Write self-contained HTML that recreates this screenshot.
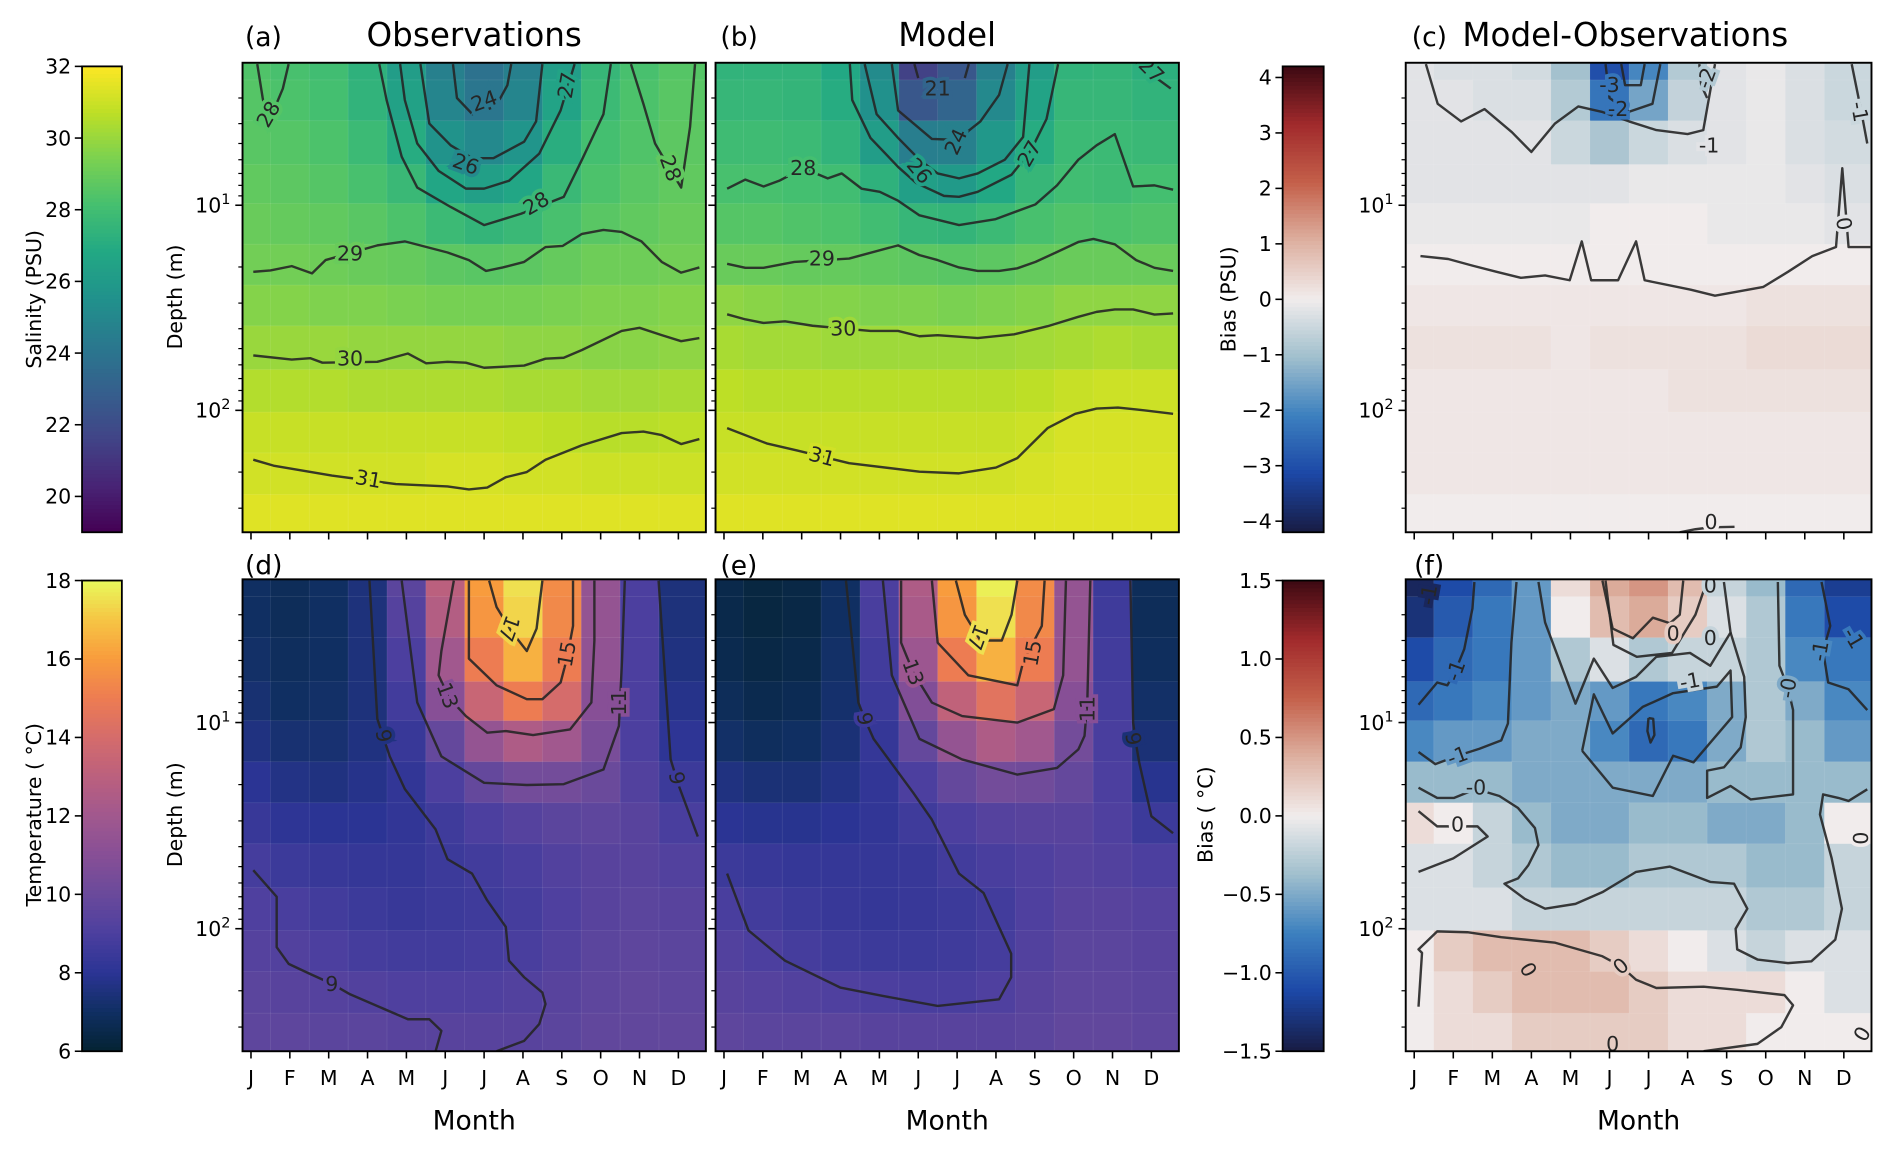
<!DOCTYPE html>
<html><head><meta charset="utf-8"><title>Salinity and temperature climatology</title>
<style>
html,body{margin:0;padding:0;background:#fff;}
svg{display:block;font-family:"DejaVu Sans","Liberation Sans",sans-serif;}
</style></head>
<body>
<svg id="fig" xmlns="http://www.w3.org/2000/svg" width="1892" height="1149" viewBox="0 0 1568 952" preserveAspectRatio="none"></svg>
<script>
// ---------- data ----------
const months = ["J","F","M","A","M","J","J","A","S","O","N","D"];
const depths = [2,3,5,8,12,20,30,50,80,130,200,330];
const salTicks = [20,22,24,26,28,30,32];
const tempTicks = [6,8,10,12,14,16,18];
const salBiasTicks = [-4,-3,-2,-1,0,1,2,3,4];
const tempBiasTicks = [-1.5,-1.0,-0.5,0.0,0.5,1.0,1.5];

const salObs = [
[28.4,28.2,28.0,27.3,26.2,24.6,23.9,24.6,26.2,27.6,28.2,28.5],
[28.5,28.3,28.1,27.4,26.4,24.9,24.1,24.9,26.5,27.8,28.3,28.6],
[28.6,28.5,28.3,27.8,27.0,25.6,25.1,25.7,27.1,28.1,28.4,28.7],
[28.8,28.7,28.5,28.2,27.7,26.7,26.3,26.7,27.7,28.3,28.6,28.8],
[29.0,28.9,28.8,28.6,28.3,27.8,27.5,27.7,28.2,28.6,28.8,29.0],
[29.2,29.2,29.1,29.0,28.9,28.7,28.6,28.7,28.9,29.1,29.1,29.2],
[29.6,29.6,29.5,29.5,29.4,29.3,29.3,29.3,29.4,29.5,29.5,29.6],
[30.0,30.0,30.0,29.9,29.9,29.9,29.9,29.8,29.8,29.7,29.7,29.8],
[30.5,30.5,30.5,30.4,30.4,30.4,30.4,30.3,30.3,30.2,30.2,30.3],
[30.9,30.9,30.9,30.9,30.9,30.9,30.9,30.8,30.7,30.6,30.6,30.7],
[31.1,31.1,31.1,31.1,31.1,31.2,31.2,31.1,31.1,31.0,31.0,31.0],
[31.4,31.4,31.4,31.4,31.4,31.4,31.4,31.4,31.4,31.4,31.4,31.4]];
const salModel = [
[27.4,27.4,27.4,26.8,25.2,21.5,22.5,24.6,26.2,27.4,27.5,27.2],
[27.6,27.6,27.5,27.0,25.5,22.5,23.2,25.1,26.5,27.6,27.6,27.4],
[27.9,27.9,27.8,27.4,26.2,24.5,24.6,25.9,27.0,27.8,27.8,27.7],
[28.2,28.2,28.1,28.0,27.3,26.3,26.0,26.8,27.6,28.0,27.9,28.1],
[28.5,28.5,28.4,28.3,28.0,27.6,27.5,27.8,28.2,28.4,28.3,28.4],
[29.0,29.0,28.9,28.9,28.8,28.7,28.6,28.7,28.9,29.0,29.0,29.0],
[29.8,29.7,29.6,29.6,29.5,29.5,29.4,29.5,29.6,29.8,29.8,29.8],
[30.3,30.2,30.2,30.1,30.1,30.1,30.1,30.1,30.2,30.3,30.4,30.3],
[30.7,30.6,30.6,30.6,30.6,30.6,30.6,30.6,30.7,30.9,31.0,31.0],
[30.9,30.9,30.9,30.9,30.9,30.9,30.9,30.9,31.0,31.2,31.2,31.2],
[31.1,31.1,31.1,31.1,31.1,31.1,31.1,31.1,31.2,31.3,31.3,31.3],
[31.4,31.4,31.4,31.4,31.4,31.4,31.4,31.4,31.4,31.4,31.4,31.4]];
const salBias = [
[-0.2,-0.3,-0.3,-0.4,-1.0,-3.0,-2.0,-0.8,-0.2,-0.1,-0.3,-0.5],
[-0.2,-0.2,-0.3,-0.3,-0.8,-2.3,-1.5,-0.6,-0.2,-0.1,-0.3,-0.5],
[-0.2,-0.2,-0.2,-0.2,-0.5,-0.9,-0.5,-0.3,-0.2,-0.1,-0.3,-0.4],
[-0.2,-0.2,-0.2,-0.2,-0.2,-0.2,-0.1,-0.1,-0.1,-0.1,-0.2,-0.3],
[-0.1,-0.1,-0.1,-0.1,-0.1,0.0,0.0,0.0,-0.1,-0.1,-0.1,-0.2],
[0.0,0.0,0.0,0.0,0.0,0.0,0.0,0.0,0.0,0.0,0.0,0.0],
[0.1,0.1,0.1,0.1,0.1,0.1,0.1,0.1,0.1,0.2,0.2,0.2],
[0.2,0.2,0.2,0.2,0.1,0.2,0.2,0.2,0.2,0.3,0.3,0.3],
[0.1,0.1,0.1,0.1,0.1,0.1,0.1,0.2,0.2,0.2,0.2,0.2],
[0.1,0.1,0.1,0.1,0.1,0.1,0.1,0.1,0.1,0.1,0.1,0.1],
[0.1,0.1,0.1,0.1,0.1,0.1,0.1,0.1,0.1,0.1,0.1,0.1],
[0.0,0.0,0.0,0.0,0.0,0.0,0.0,0.0,0.0,0.0,0.0,0.0]];
const tempObs = [
[7.0,6.8,7.0,7.5,9.5,13.0,16.0,17.5,15.5,11.5,9.0,7.5],
[7.0,6.8,7.0,7.5,9.3,12.7,15.8,17.3,15.4,11.5,9.0,7.5],
[7.1,6.9,7.0,7.5,9.0,12.0,15.0,16.5,15.0,11.4,9.0,7.6],
[7.3,7.0,7.1,7.5,8.7,11.0,13.5,15.0,14.0,11.0,9.0,7.8],
[7.6,7.3,7.3,7.6,8.4,9.8,11.5,12.5,12.0,10.5,9.0,8.1],
[8.0,7.7,7.6,7.8,8.2,9.0,9.8,10.3,10.3,10.0,9.2,8.5],
[8.4,8.1,8.0,8.0,8.2,8.6,9.0,9.3,9.5,9.6,9.4,8.9],
[8.8,8.5,8.4,8.3,8.3,8.5,8.7,8.9,9.2,9.4,9.4,9.2],
[9.1,8.9,8.7,8.5,8.4,8.5,8.6,8.8,9.1,9.4,9.5,9.4],
[9.3,9.2,9.0,8.8,8.7,8.7,8.8,8.9,9.2,9.5,9.6,9.5],
[9.5,9.4,9.3,9.2,9.1,9.1,9.1,9.2,9.4,9.6,9.7,9.6],
[9.6,9.6,9.5,9.5,9.4,9.4,9.4,9.4,9.5,9.7,9.7,9.7]];
const tempModel = [
[6.5,6.3,6.4,7.0,9.0,12.5,16.0,17.8,15.5,11.5,8.5,6.8],
[6.5,6.3,6.4,7.0,8.9,12.3,15.8,17.5,15.4,11.5,8.6,6.8],
[6.6,6.4,6.5,7.1,8.7,11.8,15.0,16.5,15.0,11.5,8.7,6.9],
[6.8,6.6,6.7,7.2,8.5,10.8,13.2,14.5,13.5,11.0,8.8,7.1],
[7.1,6.9,7.0,7.4,8.3,9.8,11.5,12.5,12.0,10.3,8.9,7.4],
[7.6,7.4,7.4,7.7,8.2,9.0,9.8,10.3,10.2,9.8,9.0,7.9],
[8.0,7.9,7.9,8.0,8.2,8.6,9.0,9.3,9.4,9.4,9.1,8.5],
[8.5,8.4,8.3,8.3,8.3,8.4,8.7,8.9,9.1,9.3,9.2,9.0],
[8.9,8.7,8.5,8.4,8.3,8.4,8.5,8.7,9.1,9.4,9.4,9.3],
[9.2,9.0,8.8,8.6,8.5,8.5,8.6,8.8,9.2,9.5,9.5,9.4],
[9.4,9.3,9.2,9.1,9.0,8.9,8.9,9.1,9.4,9.6,9.6,9.5],
[9.6,9.5,9.5,9.5,9.4,9.4,9.4,9.4,9.5,9.7,9.7,9.6]];
const tempBias = [
[-1.4,-1.1,-0.9,-0.6,0.1,0.4,0.5,0.3,-0.2,-0.4,-0.9,-1.2],
[-1.3,-1.0,-0.8,-0.6,0.0,0.3,0.4,0.2,-0.1,-0.3,-0.8,-1.1],
[-1.1,-0.9,-0.8,-0.6,-0.3,-0.1,-0.3,-0.2,-0.2,-0.3,-0.7,-0.8],
[-0.9,-0.8,-0.7,-0.6,-0.5,-0.6,-0.8,-0.7,-0.5,-0.3,-0.5,-0.7],
[-0.7,-0.6,-0.6,-0.5,-0.5,-0.7,-0.9,-0.8,-0.5,-0.3,-0.4,-0.6],
[-0.4,-0.4,-0.4,-0.5,-0.5,-0.5,-0.5,-0.5,-0.4,-0.4,-0.4,-0.4],
[0.1,0.0,-0.2,-0.4,-0.5,-0.5,-0.4,-0.4,-0.5,-0.5,-0.4,0.0],
[-0.1,-0.1,-0.2,-0.3,-0.4,-0.4,-0.3,-0.3,-0.3,-0.4,-0.4,-0.2],
[-0.1,-0.1,-0.1,-0.2,-0.2,-0.2,-0.2,-0.2,-0.2,-0.3,-0.3,-0.2],
[0.0,0.2,0.3,0.3,0.3,0.2,0.1,0.0,-0.1,-0.2,-0.1,-0.1],
[0.0,0.1,0.2,0.3,0.3,0.3,0.2,0.1,0.1,0.1,0.0,-0.1],
[0.0,0.1,0.1,0.2,0.2,0.2,0.2,0.1,0.1,0.0,0.0,0.0]];

// contour lines: [month index, depth m]
const contA = [
[[0.16,2.05],[0.3,3],[0.45,4.2],[0.6,3.4],[0.82,2.7],[0.97,2.05]],
[[3.3,2.05],[3.49,3.07],[3.88,5.8],[4.28,8.2],[5.14,10.2],[6,12.5],[6.95,11],[8.05,9.1],[8.52,6],[9.07,3.6],[9.26,2.05]],
[[9.78,2.05],[10.1,3.2],[10.4,5.0],[10.75,6.5],[11.07,8.2],[11.3,4.15],[11.43,2.05]],
[[3.84,2.05],[3.96,3.07],[4.28,5],[4.83,6.8],[5.53,8.3],[6,8.3],[6.64,7.6],[7.42,5.6],[7.97,3.45],[8.33,2.05]],
[[4.36,2.05],[4.59,4.0],[5.14,5.1],[5.7,5.9],[6.24,5.9],[7.03,4.9],[7.34,3.9],[7.5,2.05]],
[[5.2,2.05],[5.3,3.0],[5.7,3.6],[6.3,3.3],[6.6,2.6],[6.7,2.05]],
[[0.06,21.1],[0.5,20.8],[1.05,19.8],[1.57,21.5],[1.92,18.5],[3.25,15.7],[3.96,15],[5.06,17],[5.61,18.5],[6.05,20.9],[6.48,20.1],[7.03,18.9],[7.58,16],[8.02,15.8],[8.52,13.8],[9.07,13.2],[9.54,13.5],[10.05,15],[10.57,18.9],[11.07,21.3],[11.54,20.1]],
[[0.06,54],[1.05,56.5],[1.53,55.7],[1.84,58.6],[3.25,58],[4.04,52.8],[4.51,59],[5.06,58],[5.53,58.6],[6.0,62],[7.03,60.5],[7.58,56],[8.05,55.4],[8.52,50.8],[9.54,41],[10.0,39.6],[10.57,43],[11.07,46],[11.54,44.4]],
[[0.06,174],[0.58,186],[2.08,208],[3.73,229],[5.06,235],[5.61,243],[6.08,238],[6.56,212],[7.1,200],[7.58,174],[8.52,148],[9.54,129],[10.1,127],[10.57,132],[11.07,146],[11.54,138]]];
const contB = [
[[0.08,122],[1.1,145],[1.89,157],[3.22,181],[5.03,199],[6.05,203],[7.0,190],[7.55,171],[8.33,122],[9.04,104],[9.59,98],[10.14,97],[10.61,99],[11.56,104]],
[[0.08,34],[0.55,36],[1.02,37.5],[1.57,36.8],[2.28,38.7],[3.77,41],[4.48,41],[5.03,43.5],[5.5,43],[6.53,44.4],[7.47,42.6],[8.33,38.9],[9.12,35],[9.59,33.1],[10.06,32.2],[10.53,32.2],[11.08,34.1],[11.56,33.7]],
[[0.08,19.3],[0.55,20.2],[1.02,20.2],[1.81,18.9],[3.22,18.2],[4.48,15.7],[5.03,17.5],[5.5,18.5],[6.05,20.1],[6.53,20.9],[7.08,20.9],[7.55,20.3],[8.02,18.9],[8.57,16.9],[9.12,15.1],[9.51,14.6],[10.06,15.5],[10.61,18.5],[11.08,20.2],[11.56,20.9]],
[[0.08,8.3],[0.55,7.5],[1.02,8.1],[1.42,7.6],[2.04,6.6],[2.67,7.4],[3.03,7.0],[3.54,8.3],[4.01,8.6],[4.48,9.5],[5.03,11.2],[6.05,12.5],[6.99,11.7],[8.02,9.9],[8.57,8.0],[9.12,6.0],[9.59,5.1],[10.06,4.5],[10.53,8.1],[11.08,8.0],[11.56,8.4]],
[[3.24,2.05],[3.3,3.07],[3.77,4.7],[4.48,6.5],[4.95,7.8],[5.66,9.0],[6.05,9.1],[6.53,8.6],[7.4,7.1],[7.9,5.4],[8.3,3.8],[8.6,2.05]],
[[3.62,2.05],[3.93,3.6],[4.48,4.7],[5.03,6.0],[5.5,7.0],[6.05,7.4],[6.53,7.0],[7.23,6.0],[7.7,4.65],[7.86,2.05]],
[[4.32,2.05],[4.48,3.45],[5.35,4.75],[6.0,4.8],[6.6,3.9],[7.08,2.9],[7.3,2.05]],
[[4.9,2.05],[5.0,2.4]],[[6.3,2.05],[6.2,2.4]],
[[10.6,2.05],[11.0,2.3],[11.5,2.7]]];
const contC = [
[[0.16,17.7],[0.87,18.3],[1.49,19.7],[2.11,21.1],[2.73,22.6],[3.35,22],[3.98,23.2],[4.29,15],[4.53,23.2],[5.22,23.2],[5.68,15],[5.9,23.2],[7.08,25.8],[7.7,27.6],[8.94,25],[9.57,21.1],[10.19,17.7],[10.8,16],[10.96,6.6],[11.12,16],[11.68,16]],
[[0.3,2.05],[0.6,3.2],[1.2,3.9],[1.8,3.4],[2.5,4.4],[3.0,5.5],[3.6,4.0],[4.2,3.3],[4.8,3.5],[5.5,3.9],[6.2,4.3],[7.0,4.5],[7.4,4.3],[7.7,2.05]],
[[11.2,2.05],[11.45,3.5],[11.6,5]],
[[4.9,2.05],[5.0,3.0],[5.5,3.5],[6.1,3.2],[6.3,2.05]],
[[7.3,2.05],[7.35,2.6],[7.5,3.0]],
[[5.3,2.05],[5.4,2.6],[5.8,2.6],[5.9,2.05]],
[[6.8,393],[7.2,380],[7.6,372],[8.2,370]]];
const contD = [
[[6.13,2.05],[6.32,2.75],[6.7,3.6],[7.1,4.5],[7.35,3.5],[7.5,2.05]],
[[5.61,2.05],[5.61,4.9],[6.32,6.6],[7.1,7.7],[7.5,7.7],[7.97,6.4],[8.13,4.9],[8.29,3.4],[8.29,2.05]],
[[5.22,2.05],[4.9,4.5],[4.83,5.9],[5.1,7.6],[5.53,9.3],[6.08,11.2],[6.56,11.0],[7.26,11.5],[8.21,10.8],[8.76,8.0],[8.84,4],[8.84,2.05]],
[[3.88,2.05],[4.28,8.0],[4.9,14.6],[6.0,19.6],[7.1,20.1],[8.05,19.9],[9.07,16.9],[9.47,10.4],[9.55,5],[9.62,2.05]],
[[3.05,2.05],[3.25,9.6],[3.57,14.6],[3.96,21],[4.75,33],[5.06,46],[5.69,54],[6.08,73],[6.56,98],[6.64,143],[7.03,172],[7.5,204],[7.58,232],[7.42,290],[7.03,350],[6.32,393]],
[[10.49,2.05],[10.8,15.1],[11.0,20],[11.5,35.7]],
[[0.06,52],[0.66,70],[0.66,123],[0.97,148],[1.53,166],[2.08,185],[2.55,208],[4.04,275],[4.59,275],[4.9,313],[4.75,393]]];
const contE = [
[[5.97,2.05],[6.2,3.0],[6.6,4.0],[7.15,4.0],[7.4,3.0],[7.55,2.05]],
[[5.35,2.05],[5.5,4.1],[6.29,5.9],[7.55,6.6],[7.7,5.1],[8.18,3.4],[8.25,2.05]],
[[4.56,2.05],[4.56,4.1],[4.87,5.7],[5.35,8.0],[6.13,9.3],[7.55,10],[8.49,8.6],[8.73,5.9],[8.8,2.05]],
[[4.09,2.05],[4.32,5.9],[5.03,12],[6.13,15.1],[7.55,17.9],[8.57,16.6],[9.12,13.5],[9.28,11.6],[9.35,8],[9.43,2.05]],
[[3.14,2.05],[3.46,8.0],[3.62,9.6],[3.85,12],[4.87,21.9],[5.35,29.6],[6.05,54],[6.68,67],[7.39,132],[7.39,172],[7.08,220],[5.5,237],[4.09,212],[2.99,193],[1.57,143],[0.63,102],[0.24,65],[0.08,54]],
[[10.46,2.05],[10.53,10],[10.6,12.5],[10.69,15.7],[11.0,28.5],[11.56,34.4]]];
const contF = [
[[0.11,8.2],[0.59,6.4],[0.85,6.6],[1.06,5.6],[1.28,4.4],[1.49,2.8],[1.54,2.08]],
[[0.11,13.9],[0.54,15.9],[1.11,14.5],[1.67,13.4],[2.23,12.2],[2.4,10.1],[2.49,4.1],[2.62,2.08]],
[[0.11,20.7],[0.59,23.2],[1.02,23.2],[1.58,21],[2.18,22.7],[2.66,26],[3.09,32.5],[3.18,39.3],[2.92,49.2],[2.66,57],[2.31,60.5],[2.83,71.6],[3.35,80],[4.13,75.8],[4.82,66.5],[5.68,53],[6.55,50],[7.58,59.3],[8.19,60.5],[8.53,80],[8.23,100],[8.27,126],[8.79,141],[9.57,147],[10.17,144],[10.78,113],[10.95,80],[10.69,45.6],[10.39,27.9],[10.47,22.3],[10.86,23.2],[11.12,24],[11.6,21.1]],
[[3.18,2.08],[3.35,3.27],[4.13,8.1],[4.6,4.9],[5.08,6.8],[5.68,6.0],[6.2,4.8],[7.06,4.6],[7.58,5.3],[8.1,3.66],[7.93,2.08]],
[[4.82,2.05],[5.08,3.5],[5.6,3.9],[6.11,3.1],[6.55,3.3],[6.8,3.0],[6.89,2.05]],
[[4.9,2.05],[5.1,4.2],[5.7,4.8],[6.6,4.6],[7.2,3.0],[7.5,2.05]],
[[4.3,13.7],[4.6,7.3],[5.08,11.3],[5.85,8.4],[6.63,7.2],[7.75,6.7],[8.1,5.6],[8.14,9.4],[7.15,15.6],[6.63,14.5],[6.11,22.7],[5.08,20.7],[4.3,13.7]],
[[6.0,9.5],[6.12,9.6],[6.15,11.5],[6.05,12.5],[5.97,11],[6.0,9.5]],
[[9.31,2.08],[9.35,5.3],[9.57,6.8],[9.7,8.7],[9.7,22.3],[8.62,23.6],[8.1,20.3],[7.5,23.2],[7.5,17.1],[7.93,16.5],[8.36,13.2],[8.49,9.4],[8.45,6.0],[8.1,3.66]],
[[10.43,2.08],[10.65,3.4],[10.47,4.5],[10.6,6.4],[11.12,6.9],[11.6,8.7]],
[[0.11,26.9],[0.59,31.9],[1.62,31.9],[1.88,35.7],[1.0,45.6],[0.11,53]],
[[0.11,239],[0.2,131],[0.11,126],[0.59,103],[1.36,104],[2.23,110],[3.61,117],[4.82,136],[5.29,152],[5.68,177],[6.2,194],[7.41,191],[8.27,198],[9.48,210],[9.7,235],[9.4,300],[8.79,362],[7.41,393]]];

// contour labels: [text, month, depth, rotation]
const labA = [["28",0.45,3.6,-60],["24",6.0,3.1,-20],["27",8.13,2.6,-80],["26",5.53,6.3,20],["28",7.34,9.8,-30],["28",10.8,6.6,70],["29",2.55,17.2,0],["30",2.55,56,0],["31",3.02,216,10]];
const labB = [["21",5.5,2.7,0],["24",5.97,4.9,-65],["26",5.03,6.8,50],["27",7.86,5.6,-60],["28",2.04,6.6,0],["29",2.52,18.2,0],["30",3.07,40,0],["31",2.52,168,15],["27",11.0,2.2,45]];
const labC = [["-3",5.0,2.6,0],["-2",5.22,3.4,0],["-2",7.48,2.4,-70],["-1",7.55,5.1,0],["-1",11.4,3.5,80],["0",11.0,12.3,80],["0",7.6,350,0]];
const labD = [["17",6.64,3.5,110],["15",8.13,4.65,-80],["13",5.06,7.4,70],["11",9.47,8.0,-90],["9",3.41,11.6,80],["9",10.96,18.6,80],["9",2.08,185,0]];
const labE = [["17",6.53,3.85,110],["15",7.94,4.6,-80],["13",4.87,5.7,70],["11",9.36,8.6,-90],["9",3.62,9.6,80],["9",10.53,12,80]];
const labF = [["-1",0.37,2.4,-80],["-1",1.06,5.6,-70],["-1",1.11,14.5,-20],["-0",1.58,20.7,0],["0",1.11,31.3,0],["0",6.63,3.7,0],["0",7.58,3.9,0],["0",7.58,2.16,0],["-1",7.06,6.3,-10],["-0",9.57,6.8,-80],["-1",10.39,4.5,-80],["-1",11.25,3.9,60],["0",11.42,36.4,90],["0",5.29,152,-40],["0",2.92,158,60],["0",5.08,362,0],["0",11.47,324,-60]];

// ---------- colormaps ----------
const viridis=["#440154","#482475","#414487","#355f8d","#2a788e","#21918c","#22a884","#44bf70","#7ad151","#bddf26","#fde725"];
const thermal=["#042333","#102f62","#2b3494","#4c3f9f","#6a4a9b","#874f96","#a1588e","#bb607e","#d56c6b","#ed7c52","#f89c3d","#f6c544","#e8fa5b"];
const balance=["#181c43","#1c47a6","#3c80bf","#a0bfcd","#f1ecec","#ddb0a0","#c4604a","#a12a2c","#3c0912"];
function hex(c){return [parseInt(c.slice(1,3),16),parseInt(c.slice(3,5),16),parseInt(c.slice(5,7),16)];}
function cmap(stops,t){t=Math.max(0,Math.min(1,t));const n=stops.length-1;const i=Math.min(n-1,Math.floor(t*n));const f=t*n-i;const a=hex(stops[i]),b=hex(stops[i+1]);return "rgb("+a.map((v,k)=>Math.round(v+(b[k]-v)*f)).join(",")+")";}

// ---------- helpers ----------
const NS="http://www.w3.org/2000/svg";
const svg=document.getElementById("fig");
function el(tag,attrs,parent){const e=document.createElementNS(NS,tag);for(const k in attrs)e.setAttribute(k,attrs[k]);(parent||svg).appendChild(e);return e;}
const DMIN=2.02,DMAX=393;
function mkPanel(x,y,w,h){return {x:x,y:y,w:w,h:h,
 xs:m=>x+7*w/384+m*32.2*w/384,
 ys:d=>y+(Math.log10(d)-Math.log10(DMIN))/(Math.log10(DMAX)-Math.log10(DMIN))*h};}
const P={a:mkPanel(201,52,384,389),b:mkPanel(593,52,384,389),c:mkPanel(1165,52,386,389),
 d:mkPanel(201,480,384,391),e:mkPanel(593,480,384,391),f:mkPanel(1165,480,386,391)};

function drawHeat(p,grid,stops,vmin,vmax,name){
 const g=el("g",{});
 
 
 for(let r=0;r<depths.length;r++){
  const y0=r===0?p.y:p.ys(Math.sqrt(depths[r-1]*depths[r]));
  const y1=r===depths.length-1?p.y+p.h:p.ys(Math.sqrt(depths[r]*depths[r+1]));
  for(let c=0;c<12;c++){
   const x0=c===0?p.x:p.xs(c-0.5);
   const x1=c===11?p.x+p.w:p.xs(c+0.5);
   const rc=el("rect",{x:x0,y:y0,width:x1-x0+0.3,height:y1-y0+0.3,fill:cmap(stops,(grid[r][c]-vmin)/(vmax-vmin)),stroke:"rgba(255,255,255,0.10)","stroke-width":0.6},g);
   
   
  }
 }
}
function cellColor(p,grid,stops,vmin,vmax,m,d){
 let c=Math.round(m);c=Math.max(0,Math.min(11,c));
 let r=0,best=1e9;depths.forEach((dd,i)=>{const k=Math.abs(Math.log(dd/d));if(k<best){best=k;r=i;}});
 return cmap(stops,(grid[r][c]-vmin)/(vmax-vmin));
}
let clipId=0;
function drawContours(p,lines,labels,grid,stops,vmin,vmax,name){
 const id="clip"+(clipId++);
 const cp=el("clipPath",{id:id});el("rect",{x:p.x,y:p.y,width:p.w,height:p.h},cp);
 const g=el("g",{"clip-path":"url(#"+id+")"});
 
 
 lines.forEach(L=>{
  const pl=el("polyline",{points:L.map(q=>p.xs(q[0]).toFixed(1)+","+p.ys(q[1]).toFixed(1)).join(" "),fill:"none",stroke:"#262626","stroke-width":2,"stroke-opacity":0.9,"stroke-linejoin":"round"},g);
  
  
 });
 labels.forEach(l=>{
  const x=p.xs(l[1]),y=p.ys(l[2]);
  const t=el("text",{x:x,y:y,"font-size":17,"text-anchor":"middle","dominant-baseline":"central",fill:"#262626",stroke:cellColor(p,grid,stops,vmin,vmax,l[1],l[2]),"stroke-width":6,"paint-order":"stroke",transform:"rotate("+l[3]+" "+x+" "+y+")"},g);
  t.textContent=l[0];
  
  
 });
}
function drawAxes(p,name,yLabels,xLabels){
 const fr=el("rect",{x:p.x,y:p.y,width:p.w,height:p.h,fill:"none",stroke:"#000","stroke-width":1.6});
 
 
 const majors=[10,100],minors=[3,4,5,6,7,8,9,20,30,40,50,60,70,80,90,200,300];
 majors.forEach(d=>{el("line",{x1:p.x-6,x2:p.x,y1:p.ys(d),y2:p.ys(d),stroke:"#000","stroke-width":1.3});});
 minors.forEach(d=>{el("line",{x1:p.x-3.5,x2:p.x,y1:p.ys(d),y2:p.ys(d),stroke:"#000","stroke-width":1});});
 if(yLabels){
  majors.forEach((d,i)=>{
   const t=el("text",{x:p.x-10,y:p.ys(d)+6,"font-size":17,"text-anchor":"end",fill:"#000"});
   
   
   const a=el("tspan",{},t);a.textContent="10";
   const b=el("tspan",{dy:-7,"font-size":12},t);b.textContent=String(i+1);
  });
 }
 months.forEach((m,i)=>{
  const x=p.xs(i);
  el("line",{x1:x,x2:x,y1:p.y+p.h,y2:p.y+p.h+6,stroke:"#000","stroke-width":1.3});
  if(xLabels){
   const t=el("text",{x:x,y:p.y+p.h+28,"font-size":17,"text-anchor":"middle",fill:"#000"});
   t.textContent=m;
   
   
  }
 });
}
function drawColorbar(x,y,w,h,stops,vmin,vmax,ticks,fmt,name){
 const g=el("g",{});
 
 
 const N=120;
 for(let i=0;i<N;i++){el("rect",{x:x,y:y+h*i/N,width:w,height:h/N+0.6,fill:cmap(stops,1-(i+0.5)/N)},g);}
 el("rect",{x:x,y:y,width:w,height:h,fill:"none",stroke:"#000","stroke-width":1.5},g);
 ticks.forEach(v=>{
  const ty=y+h*(vmax-v)/(vmax-vmin);
  el("line",{x1:x-6,x2:x,y1:ty,y2:ty,stroke:"#000","stroke-width":1.3},g);
  const t=el("text",{x:x-9,y:ty+6,"font-size":17,"text-anchor":"end",fill:"#000"},g);
  t.textContent=fmt(v);
  
  
 });
}
function text(x,y,s,size,name,anchor,rot){
 const t=el("text",{x:x,y:y,"font-size":size,"text-anchor":anchor||"start",fill:"#000"});
 if(rot)t.setAttribute("transform","rotate("+rot+" "+x+" "+y+")");
 t.textContent=s;
 
 
 return t;
}

// ---------- draw ----------
drawHeat(P.a,salObs,viridis,19,32,"salinity-obs");
drawHeat(P.b,salModel,viridis,19,32,"salinity-model");
drawHeat(P.c,salBias,balance,-4.2,4.2,"salinity-bias");
drawHeat(P.d,tempObs,thermal,6,18,"temperature-obs");
drawHeat(P.e,tempModel,thermal,6,18,"temperature-model");
drawHeat(P.f,tempBias,balance,-1.5,1.5,"temperature-bias");
drawContours(P.a,contA,labA,salObs,viridis,19,32,"salinity-obs");
drawContours(P.b,contB,labB,salModel,viridis,19,32,"salinity-model");
drawContours(P.c,contC,labC,salBias,balance,-4.2,4.2,"salinity-bias");
drawContours(P.d,contD,labD,tempObs,thermal,6,18,"temperature-obs");
drawContours(P.e,contE,labE,tempModel,thermal,6,18,"temperature-model");
drawContours(P.f,contF,labF,tempBias,balance,-1.5,1.5,"temperature-bias");
drawAxes(P.a,"panel-a",true,false);
drawAxes(P.b,"panel-b",false,false);
drawAxes(P.c,"panel-c",true,false);
drawAxes(P.d,"panel-d",true,true);
drawAxes(P.e,"panel-e",false,true);
drawAxes(P.f,"panel-f",true,true);

drawColorbar(68,55,33,386,viridis,19,32,salTicks,v=>String(v),"salinity-colorbar");
drawColorbar(68,481,33,390,thermal,6,18,tempTicks,v=>String(v),"temperature-colorbar");
drawColorbar(1063,55,34,386,balance,-4.2,4.2,salBiasTicks,v=>(v<0?"\u2212":"")+Math.abs(v),"salinity-bias-colorbar");
drawColorbar(1063,481,34,390,balance,-1.5,1.5,tempBiasTicks,v=>(v<0?"\u2212":"")+Math.abs(v).toFixed(1),"temperature-bias-colorbar");

text(203,38,"(a)",22,"panel-a-letter");
text(393,38,"Observations",27,"panel-a-title","middle");
text(597,38,"(b)",22,"panel-b-letter");
text(785,38,"Model",27,"panel-b-title","middle");
text(1170,38,"(c)",22,"panel-c-letter");
text(1212,38,"Model-Observations",27,"panel-c-title");
text(203,476,"(d)",22,"panel-d-letter");
text(597,476,"(e)",22,"panel-e-letter");
text(1172,476,"(f)",22,"panel-f-letter");
text(393,936,"Month",22,"x-axis-title-d","middle");
text(785,936,"Month",22,"x-axis-title-e","middle");
text(1358,936,"Month",22,"x-axis-title-f","middle");
text(151,246,"Depth (m)",17,"y-axis-title-a","middle",-90);
text(151,675,"Depth (m)",17,"y-axis-title-d","middle",-90);
text(34,248,"Salinity (PSU)",17,"salinity-colorbar-title","middle",-90);
text(34,675,"Temperature ( \u00B0C)",17,"temperature-colorbar-title","middle",-90);
text(1024,248,"Bias (PSU)",17,"salinity-bias-colorbar-title","middle",-90);
text(1005,675,"Bias ( \u00B0C)",17,"temperature-bias-colorbar-title","middle",-90);
</script>
</body></html>
